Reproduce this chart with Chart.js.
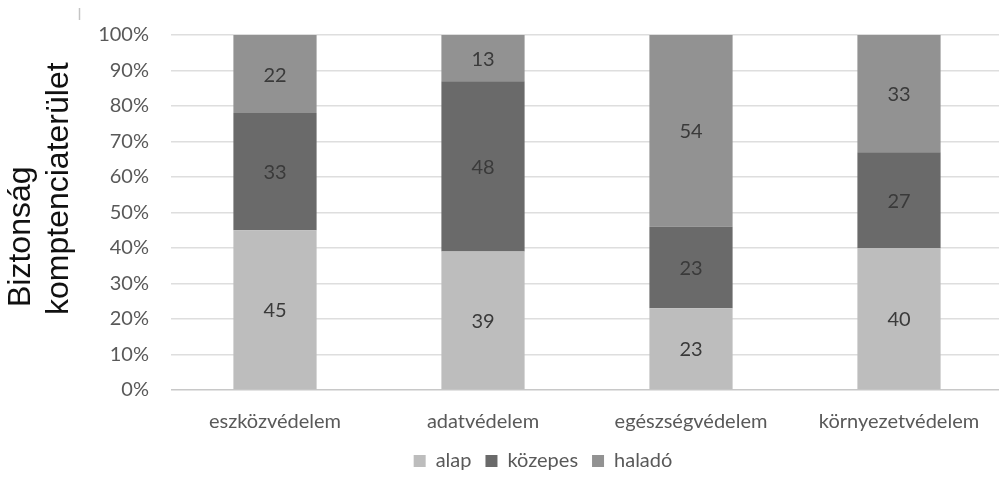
<!DOCTYPE html>
<html>
<head>
<meta charset="utf-8">
<script src="https://cdn.jsdelivr.net/npm/chart.js@4"></script>
<style>
  html, body { margin: 0; padding: 0; background: #fff; overflow: hidden; }
  #wrap { width: 1010px; height: 487px; position: relative; }
</style>
</head>
<body>
<div id="wrap"><canvas id="c"></canvas></div>
<script>
const categories = ['eszközvédelem', 'adatvédelem', 'egészségvédelem', 'környezetvédelem'];
const seriesNames = ['alap', 'közepes', 'haladó'];
const alap = [45, 39, 23, 40];
const kozepes = [33, 48, 23, 27];
const halado = [22, 13, 54, 33];
const yTitleLines = ['Biztonság', 'komptenciaterület'];
const colors = ['#bdbdbd', '#6a6a6a', '#929292'];

const FONT = 'Lato, "Open Sans", sans-serif';

const valueLabels = {
  id: 'valueLabels',
  afterDatasetsDraw(chart) {
    const ctx = chart.ctx;
    ctx.save();
    ctx.font = '20px ' + FONT;
    ctx.fillStyle = '#3a3a3a';
    ctx.textAlign = 'center';
    ctx.textBaseline = 'middle';
    chart.data.datasets.forEach((ds, di) => {
      const meta = chart.getDatasetMeta(di);
      meta.data.forEach((bar, i) => {
        const p = bar.getProps(['x', 'y', 'base'], true);
        ctx.fillText(String(ds.data[i]), p.x, (p.y + p.base) / 2 + 1);
      });
    });
    ctx.restore();
  }
};

const yTitle = {
  id: 'yTitle',
  afterDraw(chart) {
    const ctx = chart.ctx;
    ctx.save();
    ctx.font = '32px "Liberation Sans", Arial, sans-serif';
    ctx.fillStyle = '#111';
    ctx.textAlign = 'left';
    ctx.textBaseline = 'alphabetic';
    const pos = [[30, 307], [68, 315]];
    yTitleLines.forEach((t, k) => {
      ctx.save();
      ctx.translate(pos[k][0], pos[k][1]);
      ctx.rotate(-Math.PI / 2);
      ctx.fillText(t, 0, 0);
      ctx.restore();
    });
    // small stray tick mark at top-left
    ctx.strokeStyle = '#c4c4c4';
    ctx.lineWidth = 1.5;
    ctx.beginPath();
    ctx.moveTo(79.5, 8);
    ctx.lineTo(79.5, 20);
    ctx.stroke();
    ctx.restore();
  }
};

new Chart(document.getElementById('c'), {
  type: 'bar',
  data: {
    labels: categories,
    datasets: [
      { label: seriesNames[0], data: alap, backgroundColor: colors[0] },
      { label: seriesNames[1], data: kozepes, backgroundColor: colors[1] },
      { label: seriesNames[2], data: halado, backgroundColor: colors[2] }
    ]
  },
  options: {
    responsive: true,
    maintainAspectRatio: false,
    animation: false,
    datasets: { bar: { barPercentage: 0.4, categoryPercentage: 1, borderWidth: 0 } },
    layout: { padding: { left: 83, right: 7, top: 35, bottom: 6 } },
    plugins: {
      legend: {
        position: 'bottom',
        labels: {
          boxWidth: 12, boxHeight: 12, padding: 14,
          color: '#595959',
          font: { family: FONT, size: 20 }
        }
      },
      tooltip: { enabled: false }
    },
    scales: {
      x: {
        stacked: true,
        grid: { display: false, drawTicks: false },
        border: { display: false },
        ticks: { color: '#595959', font: { family: FONT, size: 20 }, padding: 20, maxRotation: 0 },
        afterFit(s) { s.height = 47; }
      },
      y: {
        stacked: true,
        min: 0, max: 100,
        grid: {
          drawTicks: false,
          color: (c) => c.tick && c.tick.value === 0 ? '#c8c8c8' : '#dedede',
          lineWidth: 1.5
        },
        border: { display: false },
        ticks: {
          stepSize: 10,
          color: '#595959',
          font: { family: FONT, size: 20 },
          padding: 22,
          callback: (v) => v + '%'
        },
        afterFit(s) { s.width = 88; }
      }
    }
  },
  plugins: [valueLabels, yTitle]
});
</script>
</body>
</html>
